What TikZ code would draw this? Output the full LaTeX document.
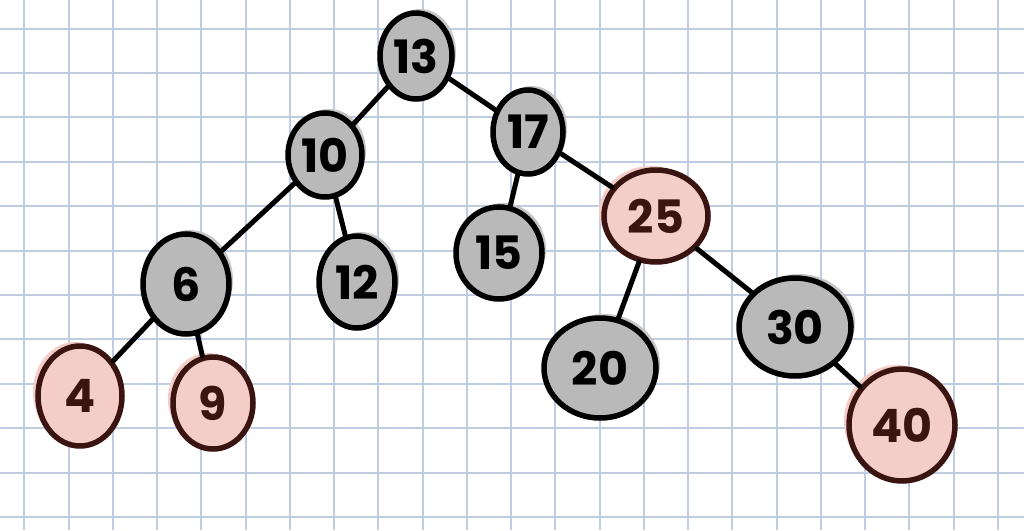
\documentclass[tikz,border=0pt]{standalone}
\usepackage{fontspec}
\setmainfont{Poppins}
\usetikzlibrary{shapes.geometric}
\definecolor{gridc}{RGB}{192,204,226}
\definecolor{grayfill}{RGB}{185,185,185}
\definecolor{grayhalo}{RGB}{198,198,198}
\definecolor{pinkfill}{RGB}{245,205,200}
\definecolor{pinkline}{RGB}{58,20,16}
\tikzset{
  nd/.style 2 args={ellipse, inner sep=0pt, minimum width=#1, minimum height=#2,
    line width=5.5pt, font=\fontsize{46}{46}\selectfont\bfseries},
  gnode/.style={draw=black, fill=grayfill, text=black,
    preaction={fill=grayhalo, transform canvas={shift={(4pt,4pt)}}}},
  pnode/.style={draw=pinkline, fill=pinkfill, text=pinkline,
    preaction={fill=pinkfill, transform canvas={shift={(-5pt,4pt)}}}},
  edge/.style={line width=5pt, line cap=round, draw=black}
}
\begin{document}
\begin{tikzpicture}[x=1pt,y=-1pt]
\useasboundingbox (0,0) rectangle (1024,530);
\fill[white] (0,0) rectangle (1024,530);
\foreach \i in {0,...,22} {\draw[gridc, line width=2pt] ({24.3+44.25*\i},0) -- ({24.3+44.25*\i},530);}
\foreach \j in {0,...,11} {\draw[gridc, line width=2pt] (0,{28.5+44.4*\j}) -- (1024,{28.5+44.4*\j});}

\node[nd={72pt}{86pt}, gnode] (n13) at (416,56) {13};
\node[nd={74pt}{84pt}, gnode] (n10) at (325,155) {10};
\node[nd={70pt}{84pt}, gnode] (n17) at (528,132) {17};
\node[nd={86pt}{100pt}, gnode] (n6) at (186,284) {6};
\node[nd={76pt}{92pt}, gnode] (n12) at (357,282) {12};
\node[nd={86pt}{92pt}, gnode] (n15) at (499,253) {15};
\node[nd={104pt}{92pt}, pnode] (n25) at (656,216) {25};
\node[nd={84pt}{100pt}, pnode] (n4) at (80,396) {4};
\node[nd={80pt}{92pt}, pnode] (n9) at (213,403) {9};
\node[nd={112pt}{100pt}, gnode] (n20) at (600,368) {20};
\node[nd={112pt}{98pt}, gnode] (n30) at (795,327) {30};
\node[nd={106pt}{112pt}, pnode] (n40) at (902,425) {40};

\draw[edge] (n13) -- (n10);
\draw[edge] (n13) -- (n17);
\draw[edge] (n10) -- (n6);
\draw[edge] (n10) -- (n12);
\draw[edge] (n17) -- (n15);
\draw[edge] (n17) -- (n25);
\draw[edge] (n6) -- (n4);
\draw[edge] (n6) -- (n9);
\draw[edge] (n25) -- (n20);
\draw[edge] (n25) -- (n30);
\draw[edge] (n30) -- (n40);
\end{tikzpicture}
\end{document}
